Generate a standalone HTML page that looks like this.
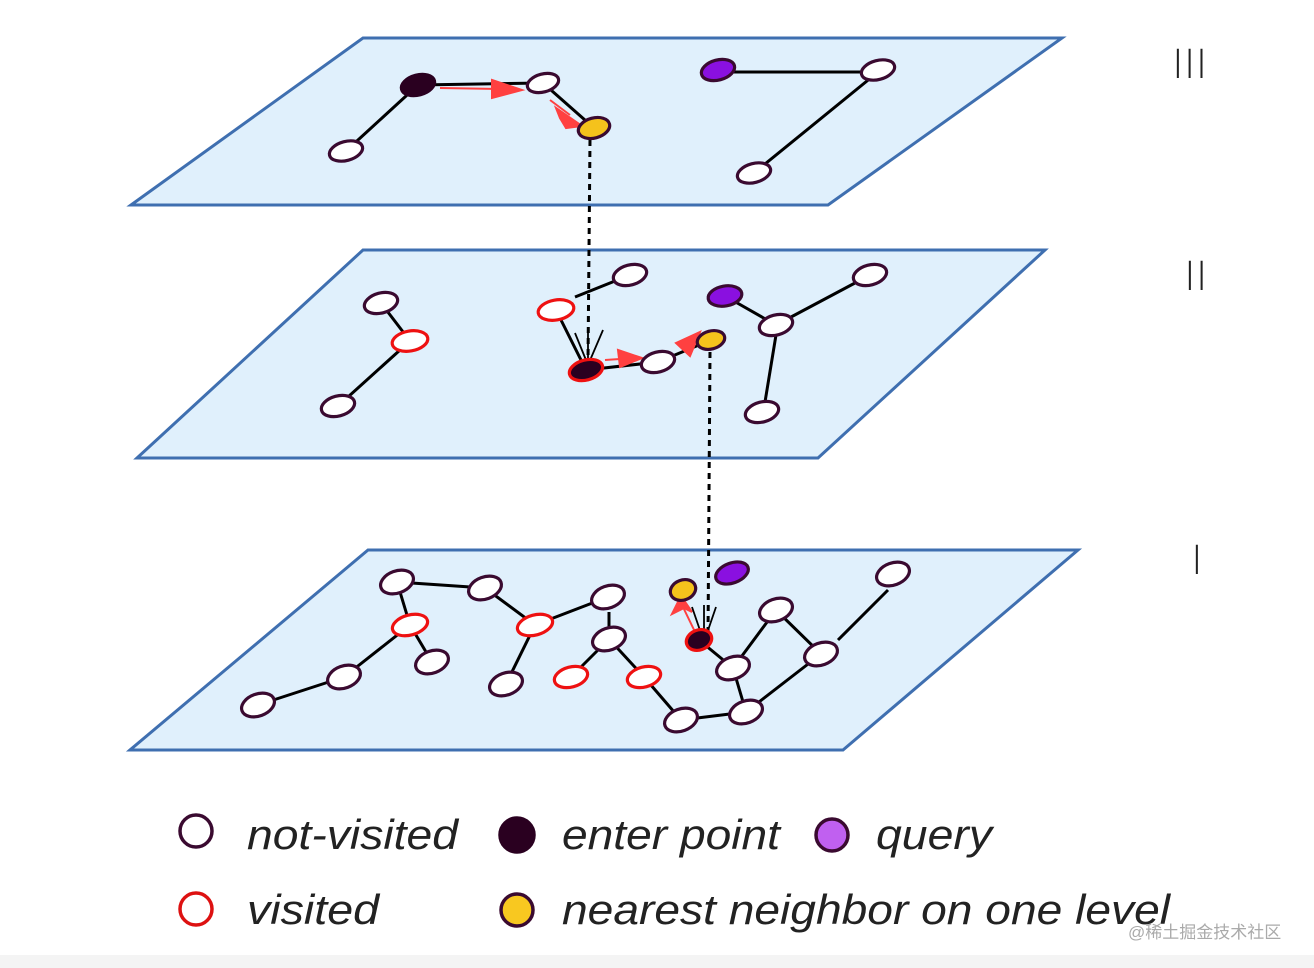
<!DOCTYPE html>
<html><head><meta charset="utf-8"><style>
html,body{margin:0;padding:0;background:#fff;}
svg{display:block;}
</style></head><body>
<svg width="1314" height="968" viewBox="0 0 1314 968" xmlns="http://www.w3.org/2000/svg">
<defs>
<marker id="ra" markerWidth="10" markerHeight="10" refX="9" refY="5" orient="auto" markerUnits="userSpaceOnUse">
</marker>
</defs>
<rect width="1314" height="968" fill="#fff"/>
<rect x="0" y="955" width="1314" height="13" fill="#f4f4f4"/>
<!-- planes -->
<polygon points="363,38 1062,38 828,205 131,205" fill="#e0f0fc" stroke="#3f6fb0" stroke-width="3"/>
<polygon points="363,250 1045,250 818,458 137,458" fill="#e0f0fc" stroke="#3f6fb0" stroke-width="3"/>
<polygon points="368,550 1078,550 843,750 130,750" fill="#e0f0fc" stroke="#3f6fb0" stroke-width="3"/>

<g stroke="#000" stroke-width="3" fill="none">
<!-- III edges -->
<line x1="346" y1="151" x2="418" y2="85"/>
<line x1="418" y1="85" x2="543" y2="83"/>
<line x1="543" y1="83" x2="594" y2="128"/>
<line x1="718" y1="72" x2="878" y2="72"/>
<line x1="878" y1="72" x2="754" y2="173"/>
<!-- II edges -->
<line x1="381" y1="303" x2="410" y2="341"/>
<line x1="410" y1="341" x2="338" y2="406"/>
<line x1="556" y1="310" x2="586" y2="370"/>
<line x1="575" y1="297" x2="630" y2="275"/>
<line x1="586" y1="370" x2="658" y2="362"/>
<line x1="658" y1="362" x2="711" y2="340"/>
<line x1="725" y1="296" x2="776" y2="325"/>
<line x1="776" y1="325" x2="870" y2="275"/>
<line x1="776" y1="335" x2="765" y2="402"/>
<!-- I edges -->
<line x1="397" y1="582" x2="485" y2="588"/>
<line x1="485" y1="588" x2="535" y2="625"/>
<line x1="535" y1="625" x2="608" y2="597"/>
<line x1="397" y1="582" x2="410" y2="625"/>
<line x1="410" y1="625" x2="432" y2="662"/>
<line x1="410" y1="625" x2="344" y2="677"/>
<line x1="344" y1="677" x2="258" y2="705"/>
<line x1="535" y1="625" x2="506" y2="684"/>
<line x1="502" y1="610" x2="609" y2="639" stroke="none"/>
<line x1="609" y1="612" x2="609" y2="639"/>
<line x1="609" y1="639" x2="571" y2="677"/>
<line x1="609" y1="639" x2="644" y2="677"/>
<line x1="644" y1="677" x2="681" y2="720"/>
<line x1="681" y1="720" x2="746" y2="712"/>
<line x1="746" y1="712" x2="733" y2="668"/>
<line x1="733" y1="668" x2="776" y2="610"/>
<line x1="776" y1="610" x2="821" y2="654"/>
<line x1="821" y1="654" x2="746" y2="712"/>
<line x1="888" y1="590" x2="838" y2="640"/>
<line x1="699" y1="640" x2="733" y2="668"/>
</g>
<!-- red search arrows -->
<g stroke="#ff4040" stroke-width="2" fill="#ff4040">
<line x1="440" y1="88" x2="500" y2="89"/>
<polygon points="492,80 522,90 492,98"/>
<line x1="550" y1="100" x2="570" y2="115"/>
<polygon points="556,108 582,126 566,128 560,118"/>
<line x1="605" y1="360" x2="620" y2="359"/>
<polygon points="618,350 642,358 620,367"/>
<polygon points="676,343 700,332 690,356"/>
<line x1="697" y1="636" x2="682" y2="605"/>
<polygon points="672,614 681,596 692,612 684,608"/>
</g>
<!-- dotted vertical links -->
<g stroke="#000" stroke-width="3" stroke-dasharray="6,5" fill="none">
<line x1="590" y1="140" x2="588" y2="360"/>
<line x1="710" y1="352" x2="708" y2="638"/>
</g>
<g stroke="#000" stroke-width="1.8" fill="none">
<polyline points="575,333 588,365 603,330"/>
<line x1="588" y1="365" x2="588" y2="330"/>
<polyline points="692,607 704,642 716,607"/>
<line x1="704" y1="642" x2="704" y2="605"/>
</g>

<!-- nodes -->
<g stroke-width="3.2">
<g stroke="#3a0a30" fill="#fff">
<!-- III -->
<ellipse cx="543" cy="83" rx="16" ry="9" transform="rotate(-15 543 83)"/>
<ellipse cx="346" cy="151" rx="17" ry="9.5" transform="rotate(-15 346 151)"/>
<ellipse cx="878" cy="70" rx="17" ry="9.5" transform="rotate(-15 878 70)"/>
<ellipse cx="754" cy="173" rx="17" ry="9.5" transform="rotate(-15 754 173)"/>
<!-- II -->
<ellipse cx="381" cy="303" rx="17" ry="10" transform="rotate(-15 381 303)"/>
<ellipse cx="338" cy="406" rx="17" ry="10" transform="rotate(-15 338 406)"/>
<ellipse cx="630" cy="275" rx="17" ry="10" transform="rotate(-15 630 275)"/>
<ellipse cx="658" cy="362" rx="17" ry="10" transform="rotate(-15 658 362)"/>
<ellipse cx="776" cy="325" rx="17" ry="10" transform="rotate(-15 776 325)"/>
<ellipse cx="870" cy="275" rx="17" ry="10" transform="rotate(-15 870 275)"/>
<ellipse cx="762" cy="412" rx="17" ry="10" transform="rotate(-15 762 412)"/>
<!-- I -->
<ellipse cx="397" cy="582" rx="17" ry="11" transform="rotate(-20 397 582)"/>
<ellipse cx="485" cy="588" rx="17" ry="11" transform="rotate(-20 485 588)"/>
<ellipse cx="608" cy="597" rx="17" ry="11" transform="rotate(-20 608 597)"/>
<ellipse cx="344" cy="677" rx="17" ry="11" transform="rotate(-20 344 677)"/>
<ellipse cx="432" cy="662" rx="17" ry="11" transform="rotate(-20 432 662)"/>
<ellipse cx="258" cy="705" rx="17" ry="11" transform="rotate(-20 258 705)"/>
<ellipse cx="609" cy="639" rx="17" ry="11" transform="rotate(-20 609 639)"/>
<ellipse cx="506" cy="684" rx="17" ry="11" transform="rotate(-20 506 684)"/>
<ellipse cx="893" cy="574" rx="17" ry="11" transform="rotate(-20 893 574)"/>
<ellipse cx="776" cy="610" rx="17" ry="11" transform="rotate(-20 776 610)"/>
<ellipse cx="821" cy="654" rx="17" ry="11" transform="rotate(-20 821 654)"/>
<ellipse cx="733" cy="668" rx="17" ry="11" transform="rotate(-20 733 668)"/>
<ellipse cx="746" cy="712" rx="17" ry="11" transform="rotate(-20 746 712)"/>
<ellipse cx="681" cy="720" rx="17" ry="11" transform="rotate(-20 681 720)"/>
</g>
<g stroke="#ee1111" fill="#fff">
<ellipse cx="410" cy="341" rx="18" ry="10" transform="rotate(-10 410 341)"/>
<ellipse cx="556" cy="310" rx="18" ry="10" transform="rotate(-10 556 310)"/>
<ellipse cx="410" cy="625" rx="18" ry="10" transform="rotate(-15 410 625)"/>
<ellipse cx="535" cy="625" rx="18" ry="10" transform="rotate(-15 535 625)"/>
<ellipse cx="571" cy="677" rx="17" ry="10" transform="rotate(-15 571 677)"/>
<ellipse cx="644" cy="677" rx="17" ry="10" transform="rotate(-15 644 677)"/>
</g>
<ellipse cx="418" cy="85" rx="17" ry="10" transform="rotate(-15 418 85)" fill="#2a0020" stroke="#2a0020"/>
<ellipse cx="586" cy="370" rx="17" ry="10" transform="rotate(-15 586 370)" fill="#2a0020" stroke="#ee1111"/>
<ellipse cx="699" cy="640" rx="13" ry="10" transform="rotate(-20 699 640)" fill="#2a0020" stroke="#ee1111"/>
<g fill="#f5c21c" stroke="#3a0a30">
<ellipse cx="594" cy="128" rx="16" ry="10" transform="rotate(-15 594 128)"/>
<ellipse cx="711" cy="340" rx="14" ry="9" transform="rotate(-15 711 340)"/>
<ellipse cx="683" cy="590" rx="13" ry="10" transform="rotate(-20 683 590)"/>
</g>
<g fill="#8a10e0" stroke="#3a0a30">
<ellipse cx="718" cy="70" rx="17" ry="10" transform="rotate(-15 718 70)"/>
<ellipse cx="725" cy="296" rx="17" ry="10" transform="rotate(-10 725 296)"/>
<ellipse cx="732" cy="573" rx="17" ry="10" transform="rotate(-20 732 573)"/>
</g>
</g>

<!-- level labels -->
<g font-family="'DejaVu Sans','Liberation Sans',sans-serif" font-size="40" fill="#222" font-weight="300">
<text x="1172" y="78">III</text>
<text x="1184" y="290">II</text>
<text x="1191" y="574">I</text>
</g>

<!-- legend -->
<g stroke-width="3.5">
<circle cx="196" cy="831" r="16" fill="#fff" stroke="#3a0a30"/>
<circle cx="196" cy="909" r="16" fill="#fff" stroke="#dd1111"/>
<circle cx="517" cy="835" r="17" fill="#2a0020" stroke="#2a0020"/>
<circle cx="517" cy="910" r="16" fill="#f8c820" stroke="#3a0a30"/>
<circle cx="832" cy="835" r="16" fill="#c060f0" stroke="#3a0a30"/>
</g>
<g font-family="'Liberation Sans',sans-serif" font-style="italic" font-size="42" fill="#222">
<text x="247" y="849" textLength="211" lengthAdjust="spacingAndGlyphs">not-visited</text>
<text x="562" y="849" textLength="218" lengthAdjust="spacingAndGlyphs">enter point</text>
<text x="876" y="849" textLength="116" lengthAdjust="spacingAndGlyphs">query</text>
<text x="247" y="924" textLength="132" lengthAdjust="spacingAndGlyphs">visited</text>
<text x="562" y="924" textLength="608" lengthAdjust="spacingAndGlyphs">nearest neighbor on one level</text>
</g>
<text x="1128" y="938" font-family="'Liberation Sans','Noto Sans CJK SC',sans-serif" font-size="17" fill="#aaa">@稀土掘金技术社区</text>
</svg>
</body></html>
